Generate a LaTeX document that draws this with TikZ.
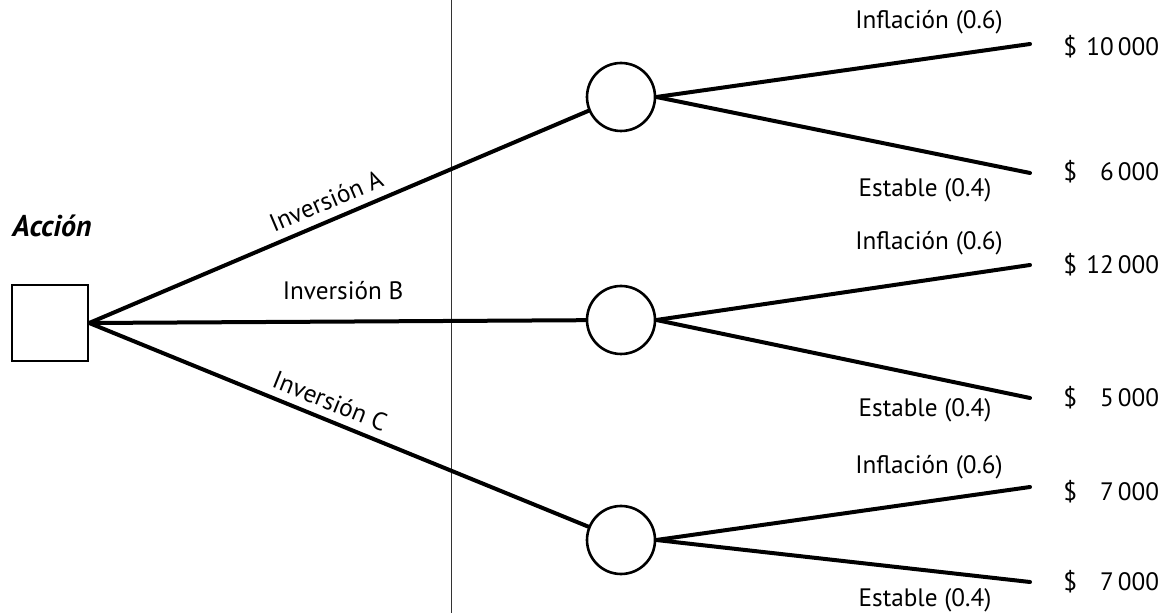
\documentclass[tikz,border=0pt]{standalone}
\usepackage{fontspec}
\setmainfont{PT Sans}
\begin{document}
\begin{tikzpicture}[x=0.5pt,y=-0.5pt,
  branch/.style={line width=2pt, line cap=round},
  chance/.style={circle, draw, line width=1.3pt, minimum size=34pt, inner sep=0pt},
  decision/.style={rectangle, draw, line width=1.2pt, minimum size=38pt, inner sep=0pt},
  lbl/.style={font=\fontsize{12.6}{14}\selectfont, inner sep=1pt},
  pay/.style={font=\fontsize{12.6}{14}\selectfont, anchor=west, inner sep=0pt}]
\useasboundingbox (0,0) rectangle (1170,613);
\draw[line width=0.5pt, black!80] (451,0) -- (451,613);
\node[decision] (s) at (50,323) {};
\node[inner sep=1pt, font=\fontsize{15}{17}\selectfont\bfseries\itshape, anchor=west] (acc) at (10,226) {Acción};
\node[chance] (cA) at (621,97) {};
\node[chance] (cB) at (621,320) {};
\node[chance] (cC) at (621,540) {};
\draw[branch] (s.east) -- (cA);
\draw[branch] (s.east) -- (cB);
\draw[branch] (s.east) -- (cC);
\node[lbl, rotate=23] (iA) at (326,201) {Inversión A};
\node[lbl] (iB) at (343,291) {Inversión B};
\node[lbl, rotate=-22] (iC) at (330,401) {Inversión C};
\coordinate (a1) at (1030,44);
\coordinate (a2) at (1030,173);
\coordinate (b1) at (1030,265);
\coordinate (b2) at (1030,398);
\coordinate (c1) at (1030,487);
\coordinate (c2) at (1030,582);
\draw[branch] (cA.east) -- (a1);
\draw[branch] (cA.east) -- (a2);
\draw[branch] (cB.east) -- (b1);
\draw[branch] (cB.east) -- (b2);
\draw[branch] (cC.east) -- (c1);
\draw[branch] (cC.east) -- (c2);
\node[lbl] (fA) at (929,22) {Inflación (0.6)};
\node[lbl] (eA) at (925,190) {Estable (0.4)};
\node[lbl] (fB) at (929,243) {Inflación (0.6)};
\node[lbl] (eB) at (925,410) {Estable (0.4)};
\node[lbl] (fC) at (929,467) {Inflación (0.6)};
\node[lbl] (eC) at (925,600) {Estable (0.4)};
\node[pay] (pA1) at (1063,47) {\$\makebox[41pt][r]{10\,000}};
\node[pay] (pA2) at (1063,172) {\$\makebox[41pt][r]{6\,000}};
\node[pay] (pB1) at (1063,265) {\$\makebox[41pt][r]{12\,000}};
\node[pay] (pB2) at (1063,398) {\$\makebox[41pt][r]{5\,000}};
\node[pay] (pC1) at (1063,492) {\$\makebox[41pt][r]{7\,000}};
\node[pay] (pC2) at (1063,582) {\$\makebox[41pt][r]{7\,000}};
\end{tikzpicture}
\end{document}
